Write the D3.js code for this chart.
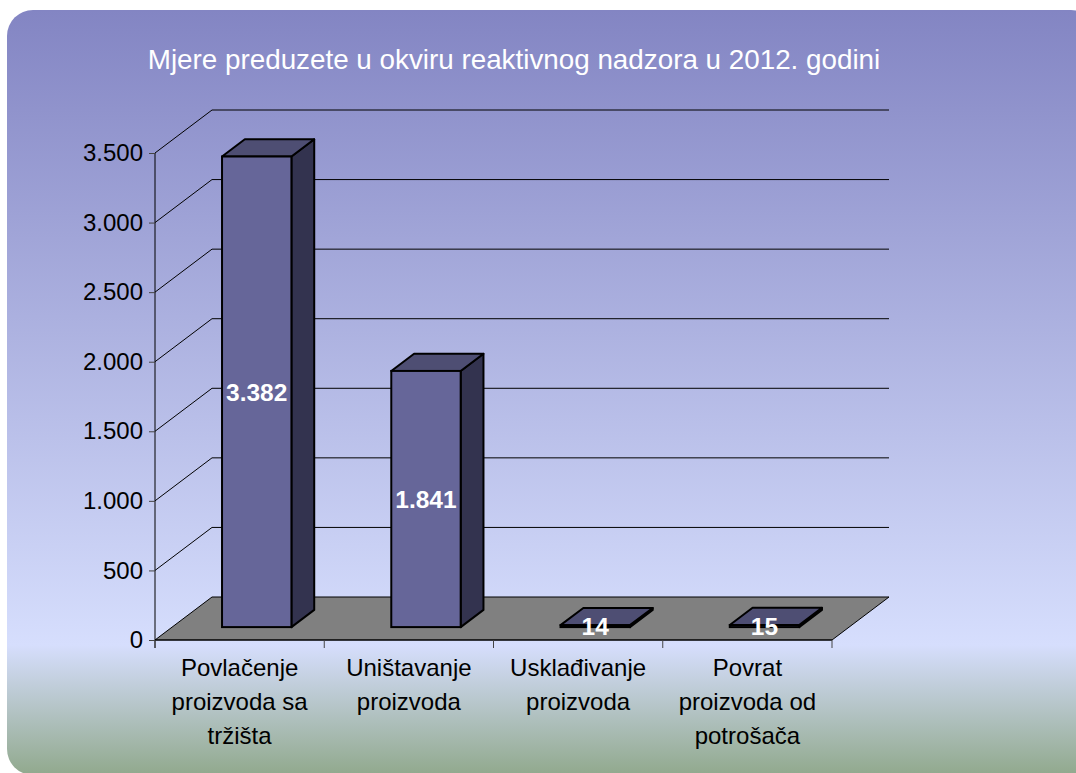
<!DOCTYPE html>
<html>
<head>
<meta charset="utf-8">
<script src="https://cdn.jsdelivr.net/npm/d3@7"></script>
<style>
  html, body { margin: 0; padding: 0; background: #fff; }
  svg { display: block; font-family: "Liberation Sans", Arial, sans-serif; }
</style>
</head>
<body>
<div id="mainChart"></div>
<script>
// Chart data
const chartTitle = "Mjere preduzete u okviru reaktivnog nadzora u 2012. godini"
const categories = ["Povlačenje proizvoda sa tržišta", "Uništavanje proizvoda", "Usklađivanje proizvoda", "Povrat proizvoda od potrošača"]
const categoryLines = [
   ["Povlačenje", "proizvoda sa", "tržišta"],
   ["Uništavanje", "proizvoda"],
   ["Usklađivanje", "proizvoda"],
   ["Povrat", "proizvoda od", "potrošača"]
]
const values = [3382, 1841, 14, 15]
const yTicks = [0, 500, 1000, 1500, 2000, 2500, 3000, 3500]

const width = 1076, height = 773
const fontFamily = "'Liberation Sans', Arial, sans-serif"

// Plot frame (front plane) and 3d depth
const plot = { left: 155, right: 832, top: 153, bottom: 640 }
const depth = { dx: 57, dy: 43 }
const barDepth = { front: 0.3, back: 0.7 }

const locale = d3.formatLocale({ decimal: ",", thousands: ".", grouping: [3], currency: ["", ""] })
const fmt = locale.format(",d")

let svg = d3.select("#mainChart").append("svg")
   .attr("width", width)
   .attr("height", height)

// Background card with gradient
let defs = svg.append("defs")
let grad = defs.append("linearGradient")
   .attr("id", "bgGrad")
   .attr("gradientUnits", "userSpaceOnUse")
   .attr("x1", 0).attr("y1", 10).attr("x2", 0).attr("y2", 775)
grad.append("stop").attr("offset", "0%").attr("stop-color", "#8385c3")
grad.append("stop").attr("offset", "83%").attr("stop-color", "#d6defd")
grad.append("stop").attr("offset", "100%").attr("stop-color", "#91a98d")

svg.append("rect")
   .attr("x", 7).attr("y", 10)
   .attr("width", 1090).attr("height", 765)
   .attr("rx", 26).attr("ry", 26)
   .attr("fill", "url(#bgGrad)")

// Title
svg.append("text")
   .attr("x", 514).attr("y", 69)
   .attr("text-anchor", "middle")
   .attr("fill", "#fff")
   .style("font-family", fontFamily)
   .style("font-size", "27.8px")
   .text(chartTitle)

// Scales
let x = d3.scaleBand()
   .domain(categories)
   .range([plot.left, plot.right])
   .paddingInner(0.59)
   .paddingOuter(0.295)

let y = d3.scaleLinear()
   .domain([0, 3500])
   .range([plot.bottom, plot.top])

let step = x.step()

// Floor
let floorPts = [
   [plot.left, plot.bottom],
   [plot.left + depth.dx, plot.bottom - depth.dy],
   [plot.right + depth.dx, plot.bottom - depth.dy],
   [plot.right, plot.bottom]
]
svg.append("polygon")
   .attr("points", floorPts.map(p => p.join(",")).join(" "))
   .attr("fill", "#808080")
   .attr("stroke", "#000")
   .attr("stroke-width", 1)

// Gridlines: diagonal on side wall + horizontal on back wall
let grid = svg.append("g").attr("class", "grid")
yTicks.filter(t => t > 0).forEach(t => {
   let yy = y(t)
   grid.append("path")
      .attr("d", "M" + plot.left + "," + yy +
         "L" + (plot.left + depth.dx) + "," + (yy - depth.dy) +
         "L" + (plot.right + depth.dx) + "," + (yy - depth.dy))
      .attr("fill", "none")
      .attr("stroke", "#000")
      .attr("stroke-width", 1)
})

// Y axis
let yAxis = d3.axisLeft(y)
   .tickValues(yTicks)
   .tickFormat(fmt)
   .tickSize(6)
   .tickSizeOuter(0)

let verticalAxis = svg.append("g")
   .attr("transform", "translate(" + plot.left + ",0)")
   .call(yAxis)

verticalAxis.select("path.domain")
   .attr("d", "M0," + plot.top + "V" + (plot.bottom + 8))
   .attr("stroke", "#000")
verticalAxis.selectAll("g.tick line").attr("stroke", "#444")
verticalAxis.selectAll("g.tick text")
   .attr("x", -12)
   .attr("fill", "#000")
   .style("font-size", "24px")
   .style("font-family", fontFamily)

// X axis (front edge of floor)
let xAxis = d3.axisBottom(x)
   .tickSize(0)
   .tickFormat("")

let horizontalAxis = svg.append("g")
   .attr("transform", "translate(0," + plot.bottom + ")")
   .call(xAxis)

horizontalAxis.select("path.domain")
   .attr("d", "M" + plot.left + ",0H" + plot.right)
   .attr("stroke", "#000")

// category boundary ticks
horizontalAxis.selectAll("line.sep")
   .data(d3.range(categories.length + 1))
   .join("line")
   .attr("class", "sep")
   .attr("x1", i => plot.left + i * step)
   .attr("x2", i => plot.left + i * step)
   .attr("y1", 0).attr("y2", 8)
   .attr("stroke", "#444")

// category labels
categories.forEach((c, i) => {
   let cx = x(c) + x.bandwidth() / 2
   let t = svg.append("text")
      .attr("text-anchor", "middle")
      .attr("fill", "#000")
      .style("font-family", fontFamily)
      .style("font-size", "24px")
   categoryLines[i].forEach((line, j) => {
      t.append("tspan")
         .attr("x", cx)
         .attr("y", 676 + j * 34)
         .text(line)
   })
})

// Bars
let fx = depth.dx * barDepth.front, fy = depth.dy * barDepth.front
let bx = depth.dx * (barDepth.back - barDepth.front), by = depth.dy * (barDepth.back - barDepth.front)

let bars = svg.selectAll("g.bar").data(categories.map((c, i) => ({ cat: c, value: values[i] })))
   .join("g")
   .attr("class", "bar")

bars.each(function (d) {
   let g = d3.select(this)
   let xl = x(d.cat) + fx, xr = xl + x.bandwidth()
   let yb = plot.bottom - fy, yt = y(d.value) - fy
   let pts = a => a.map(p => p.join(",")).join(" ")

   g.append("polygon")
      .attr("points", pts([[xr, yt], [xr + bx, yt - by], [xr + bx, yb - by], [xr, yb]]))
      .attr("fill", "#33334f")
      .attr("stroke", "#000").attr("stroke-width", 2).attr("stroke-linejoin", "round")
   g.append("polygon")
      .attr("points", pts([[xl, yt], [xl + bx, yt - by], [xr + bx, yt - by], [xr, yt]]))
      .attr("fill", "#4e4e73")
      .attr("stroke", "#000").attr("stroke-width", 2).attr("stroke-linejoin", "round")
   g.append("rect")
      .attr("x", xl).attr("y", yt)
      .attr("width", xr - xl).attr("height", yb - yt)
      .attr("fill", "#666699")
      .attr("stroke", "#000").attr("stroke-width", 2)

   g.append("text")
      .attr("x", (xl + xr) / 2)
      .attr("y", (yt + yb) / 2)
      .attr("dy", "0.36em")
      .attr("text-anchor", "middle")
      .attr("fill", "#fff")
      .style("font-family", fontFamily)
      .style("font-size", "24.5px")
      .style("font-weight", "bold")
      .text(fmt(d.value))
})
</script>
</body>
</html>
